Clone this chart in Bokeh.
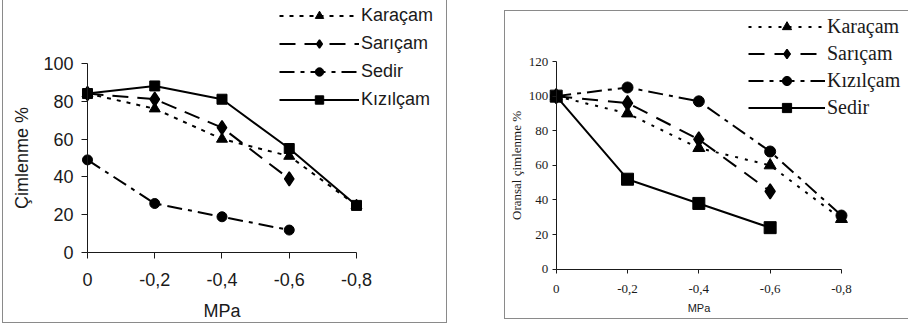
from bokeh.plotting import figure
from bokeh.models import LinearAxis, FixedTicker, Range1d
from bokeh.layouts import row
from bokeh.embed import file_html
from bokeh.resources import INLINE

# ---------------- data ----------------
mpa = [0, -0.2, -0.4, -0.6, -0.8]
mpa_ticks = [0, -0.2, -0.4, -0.6, -0.8]
mpa_tick_labels = ["0", "-0,2", "-0,4", "-0,6", "-0,8"]

# left chart: Çimlenme %
left_y_ticks = [0, 20, 40, 60, 80, 100]
left_karacam = [84, 76, 60, 51, 25]
left_saricam = [84, 81, 66, 39]
left_sedir = [49, 26, 19, 12]
left_kizilcam = [84, 88, 81, 55, 25]

# right chart: Oransal çimlenme %
right_y_ticks = [0, 20, 40, 60, 80, 100, 120]
right_karacam = [100, 90, 70, 60, 29]
right_saricam = [100, 96, 75, 45]
right_kizilcam = [100, 105, 97, 68, 31]
right_sedir = [100, 52, 38, 24]

overrides = {t: l for t, l in zip(mpa_ticks, mpa_tick_labels)}

SANS = "Liberation Sans"
SERIF = "Liberation Serif"
INK = "#1a1a1a"


def make_axes(p, ymax, yticks, font, tick_size, label_size, ylabel, xlabel_font,
              xlabel_size, tick_out, y_std, x_std, ylab_std, xlab_std):
    xa = LinearAxis(fixed_location=0, bounds=(-0.8, 0),
                    ticker=FixedTicker(ticks=mpa_ticks),
                    major_label_overrides=overrides,
                    axis_label="MPa")
    ya = LinearAxis(fixed_location=0, bounds=(0, ymax),
                    ticker=FixedTicker(ticks=yticks),
                    axis_label=ylabel)
    for ax in (xa, ya):
        ax.minor_tick_line_color = None
        ax.major_tick_in = 0
        ax.major_tick_out = tick_out
        ax.axis_line_color = INK
        ax.major_tick_line_color = INK
        ax.axis_line_width = 1
        ax.major_label_text_font = font
        ax.major_label_text_font_size = tick_size
        ax.major_label_text_color = INK
        ax.axis_label_text_font_style = "normal"
        ax.axis_label_text_color = INK
    xa.axis_label_text_font = xlabel_font
    xa.axis_label_text_font_size = xlabel_size
    ya.axis_label_text_font = font
    ya.axis_label_text_font_size = label_size
    xa.major_label_standoff = x_std
    ya.major_label_standoff = y_std
    ya.axis_label_standoff = ylab_std
    xa.axis_label_standoff = xlab_std
    p.add_layout(xa, "below")
    p.add_layout(ya, "left")


def style_legend(p, x, y, font, size, gw, gh, sp):
    lg = p.legend[0]
    lg.location = (x, y)
    lg.border_line_color = None
    lg.background_fill_alpha = 0
    lg.padding = 0
    lg.margin = 0
    lg.spacing = sp
    lg.glyph_width = gw
    lg.glyph_height = gh
    lg.label_height = gh
    lg.label_standoff = 2
    lg.label_text_font = font
    lg.label_text_font_size = size
    lg.label_text_color = INK
    lg.label_text_baseline = "middle"


GREY = "1px solid #8a8a8a"

# ---------------- left chart ----------------
p1 = figure(width=445, height=323, output_backend="svg", toolbar_location=None,
            x_axis_location=None, y_axis_location=None,
            x_range=Range1d(0.2498, -1.0736), y_range=Range1d(-37.29, 133.07),
            min_border_left=0, min_border_right=0, min_border_top=0,
            min_border_bottom=0)
p1.outline_line_color = None
p1.xgrid.visible = False
p1.ygrid.visible = False
p1.margin = (0, 0, 0, 2)
p1.styles = {"border-left": GREY, "border-right": GREY, "border-bottom": GREY}

lw = 2
p1.line(mpa, left_karacam, line_color="black", line_width=lw, line_dash="4 6",
        legend_label="Karaçam")
p1.scatter(mpa, left_karacam, marker="triangle", size=11, color="black",
           legend_label="Karaçam")
p1.line(mpa[:4], left_saricam, line_color="black", line_width=lw, line_dash="16 9",
        legend_label="Sarıçam")
p1.scatter(mpa[:4], left_saricam, marker="diamond", size=14, color="black",
           line_width=1.5, legend_label="Sarıçam")
p1.line(mpa[:4], left_sedir, line_color="black", line_width=lw,
        line_dash="15 6 4 6", legend_label="Sedir")
p1.scatter(mpa[:4], left_sedir, marker="circle", size=10, color="black",
           legend_label="Sedir")
p1.line(mpa, left_kizilcam, line_color="black", line_width=lw,
        legend_label="Kızılçam")
p1.scatter(mpa, left_kizilcam, marker="square", size=10, color="black",
           legend_label="Kızılçam")

make_axes(p1, 100, left_y_ticks, SANS, "18px", "18px", "Çimlenme %", SANS, "18px",
          6, 8, 14, 8, 12)
style_legend(p1, 276, 213, SANS, "18px", 80, 21, 7)

# ---------------- right chart ----------------
p2 = figure(width=404, height=309, output_backend="svg", toolbar_location=None,
            x_axis_location=None, y_axis_location=None,
            x_range=Range1d(0.1422, -0.9908), y_range=Range1d(-29.64, 148.9),
            min_border_left=0, min_border_right=0, min_border_top=0,
            min_border_bottom=0)
p2.outline_line_color = None
p2.xgrid.visible = False
p2.ygrid.visible = False
p2.margin = (10, 0, 0, 57)
p2.styles = {"border-left": GREY, "border-top": GREY, "border-bottom": GREY}

p2.line(mpa, right_karacam, line_color="black", line_width=lw, line_dash="3 7",
        legend_label="Karaçam")
p2.scatter(mpa, right_karacam, marker="triangle", size=12, color="black",
           legend_label="Karaçam")
p2.line(mpa[:4], right_saricam, line_color="black", line_width=lw,
        line_dash="16 10", legend_label="Sarıçam")
p2.scatter(mpa[:4], right_saricam, marker="diamond", size=15, color="black",
           line_width=1.5, legend_label="Sarıçam")
p2.line(mpa, right_kizilcam, line_color="black", line_width=lw,
        line_dash="15 6 4 6", legend_label="Kızılçam")
p2.scatter(mpa, right_kizilcam, marker="circle", size=11, color="black",
           legend_label="Kızılçam")
p2.line(mpa[:4], right_sedir, line_color="black", line_width=lw,
        legend_label="Sedir")
p2.scatter(mpa[:4], right_sedir, marker="square", size=12, color="black",
           legend_label="Sedir")

make_axes(p2, 120, right_y_ticks, SERIF, "13px", "13px", "Oransal çimlenme %",
          SANS, "11px", 4, 4, 12, 2, 5)
style_legend(p2, 243, 201, SERIF, "20px", 77, 23, 4)

layout = row(p1, p2)
open("out.html", "w").write(file_html(layout, INLINE))
